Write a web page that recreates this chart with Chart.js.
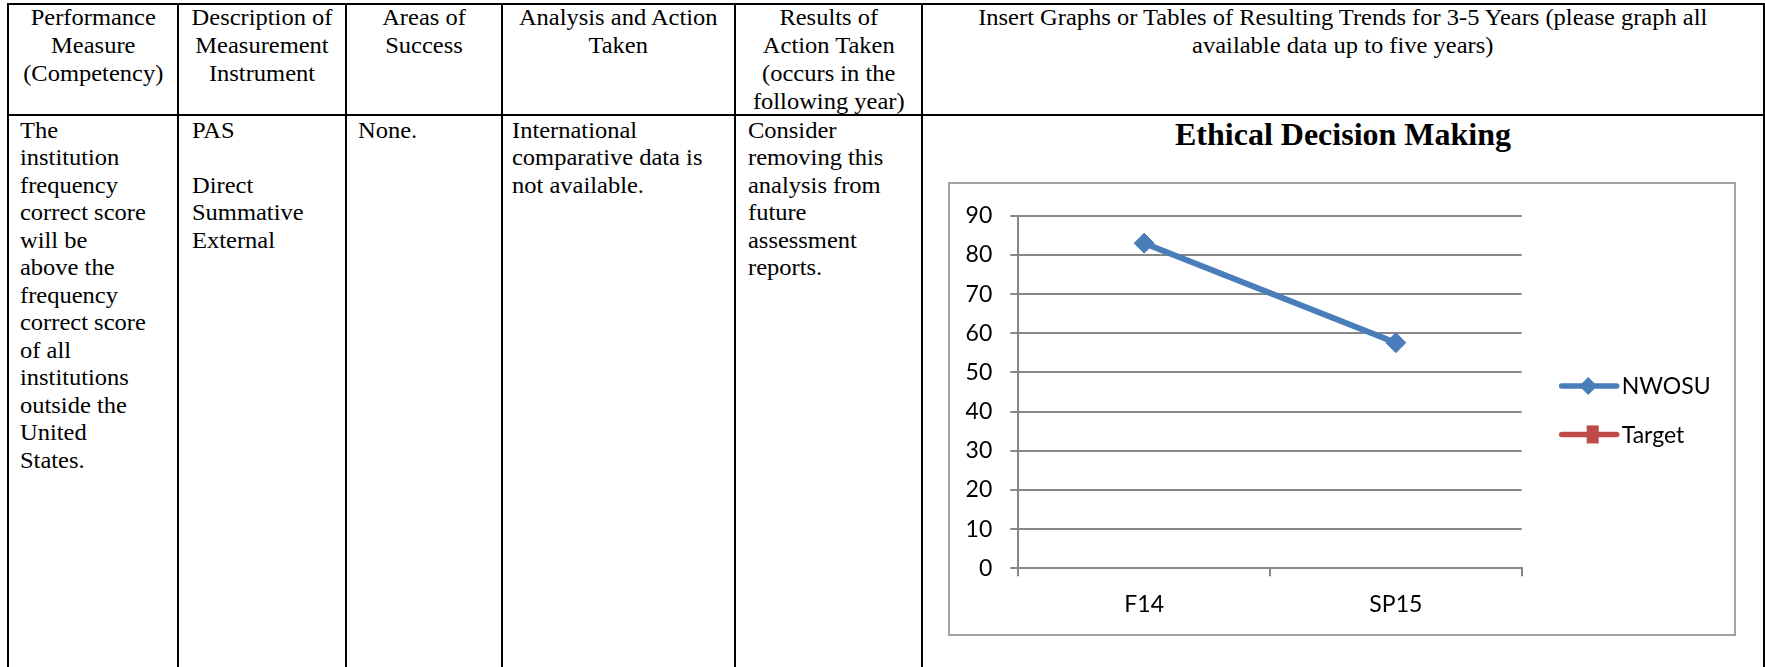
<!DOCTYPE html>
<html lang="en">
<head>
<meta charset="UTF-8">
<title>Ethical Decision Making</title>
<script src="https://cdn.jsdelivr.net/npm/chart.js"></script>
<style>
  body {
    margin: 0;
    width: 1765px;
    height: 667px;
    overflow: hidden;
    position: relative;
    background: #fff;
    color: #000;
    font-family: "Liberation Serif", "Times New Roman", serif;
    font-size: 23px;
  }
  .vline { position: absolute; top: 3px; height: 664px; width: 2px; background: #000; }
  .hline { position: absolute; left: 6.5px; width: 1758px; height: 2px; background: #000; }
  .head {
    position: absolute; top: 4.2px; line-height: 28px; text-align: center; white-space: nowrap;
    transform: scaleX(1.065); transform-origin: center top;
  }
  .cell {
    position: absolute; top: 116.8px; line-height: 27.5px; white-space: nowrap;
    transform: scaleX(1.065); transform-origin: left top;
  }
  .title {
    position: absolute; left: 922px; width: 842px; top: 117px;
    line-height: 34px; text-align: center; font-weight: bold; font-size: 32px; white-space: nowrap;
  }
  .chart-box {
    position: absolute; left: 948px; top: 182px; width: 788px; height: 454px;
    border: 2px solid #a2a2a2; box-sizing: border-box; background: #fff;
  }
  .chart-wrap { position: absolute; left: 0; top: 0; width: 784px; height: 450px; }
</style>
</head>
<body>
  <!-- table rules -->
  <div class="hline" style="top:3px"></div>
  <div class="hline" style="top:114px"></div>
  <div class="vline" style="left:6.5px"></div>
  <div class="vline" style="left:177px"></div>
  <div class="vline" style="left:345px"></div>
  <div class="vline" style="left:501px"></div>
  <div class="vline" style="left:733.5px"></div>
  <div class="vline" style="left:921px"></div>
  <div class="vline" style="left:1762.5px"></div>

  <!-- header row -->
  <div class="head" style="left:7.5px;width:170.5px">Performance<br>Measure<br>(Competency)</div>
  <div class="head" style="left:178px;width:168px">Description of<br>Measurement<br>Instrument</div>
  <div class="head" style="left:346px;width:156px">Areas of<br>Success</div>
  <div class="head" style="left:502px;width:232.5px">Analysis and Action<br>Taken</div>
  <div class="head" style="left:734.5px;width:187.5px">Results of<br>Action Taken<br>(occurs in the<br>following year)</div>
  <div class="head" style="left:922px;width:841.5px">Insert Graphs or Tables of Resulting Trends for 3-5 Years (please graph all<br>available data up to five years)</div>

  <!-- body row -->
  <div class="cell" style="left:20px">The<br>institution<br>frequency<br>correct score<br>will be<br>above the<br>frequency<br>correct score<br>of all<br>institutions<br>outside the<br>United<br>States.</div>
  <div class="cell" style="left:192px">PAS<br><br>Direct<br>Summative<br>External</div>
  <div class="cell" style="left:357.5px">None.</div>
  <div class="cell" style="left:512px">International<br>comparative data is<br>not available.</div>
  <div class="cell" style="left:748px">Consider<br>removing this<br>analysis from<br>future<br>assessment<br>reports.</div>

  <div class="title">Ethical Decision Making</div>
  <div class="chart-box">
    <div class="chart-wrap"><canvas id="trendChart"></canvas></div>
  </div>

<script>
  // values
  const categories = ['F14', 'SP15'];
  const seriesNames = ['NWOSU', 'Target'];
  const nwosuValues = [83, 57.6];
  const targetValues = [null, null];
  const yMin = 0;
  const yMax = 90;
  const yStep = 10;

  const gridColor = '#878787';
  const chartFont = { family: 'Lato', size: 23 };

  // Excel style legend: short line with the marker in the middle
  const lineLegend = {
    id: 'lineLegend',
    afterDraw(chart) {
      const { ctx, chartArea } = chart;
      const midY = (chartArea.top + chartArea.bottom) / 2;
      chart.data.datasets.forEach((ds, i) => {
        const y = midY - 6 + i * 48.4;
        const x0 = chartArea.right + 40;
        const x1 = chartArea.right + 95;
        ctx.save();
        ctx.strokeStyle = ds.borderColor;
        ctx.lineWidth = 5.5;
        ctx.lineCap = 'round';
        ctx.beginPath();
        ctx.moveTo(x0, y);
        ctx.lineTo(x1, y);
        ctx.stroke();
        ctx.fillStyle = ds.borderColor;
        if (ds.pointStyle === 'rectRot') {
          const cx = chartArea.right + 66.5, r = 9;
          ctx.beginPath();
          ctx.moveTo(cx - r, y);
          ctx.lineTo(cx, y - r);
          ctx.lineTo(cx + r, y);
          ctx.lineTo(cx, y + r);
          ctx.closePath();
          ctx.fill();
        } else {
          const cx = chartArea.right + 71;
          ctx.fillRect(cx - 6, y - 9, 12, 18);
        }
        ctx.fillStyle = '#000';
        ctx.font = chartFont.size + 'px ' + chartFont.family;
        ctx.textAlign = 'left';
        ctx.textBaseline = 'middle';
        ctx.fillText(ds.label, chartArea.right + 100, y + 1);
        ctx.restore();
      });
    }
  };

  new Chart(document.getElementById('trendChart'), {
    type: 'line',
    data: {
      labels: categories,
      datasets: [{
        label: seriesNames[0],
        data: nwosuValues,
        borderColor: '#4a7ebb',
        backgroundColor: '#4a7ebb',
        borderWidth: 6,
        tension: 0,
        pointStyle: 'rectRot',
        pointRadius: 10,
        pointBorderWidth: 1,
        pointBackgroundColor: '#4a7ebb',
        pointBorderColor: '#4a7ebb'
      }, {
        label: seriesNames[1],
        data: targetValues,
        borderColor: '#be4b48',
        backgroundColor: '#be4b48',
        borderWidth: 6,
        pointStyle: 'rect',
        pointRadius: 9
      }]
    },
    options: {
      responsive: true,
      maintainAspectRatio: false,
      animation: false,
      events: [],
      layout: { padding: { top: 28.7, right: 212.3, bottom: 0, left: 0 } },
      plugins: {
        legend: { display: false },
        title: { display: false },
        tooltip: { enabled: false }
      },
      scales: {
        x: {
          offset: true,
          grid: {
            offset: true,
            drawOnChartArea: false,
            drawTicks: true,
            tickLength: 8,
            color: gridColor,
            lineWidth: 2
          },
          border: { display: true, color: gridColor, width: 2 },
          ticks: { color: '#000', font: chartFont, padding: 14 },
          afterFit(scale) { scale.height = 65.7; }
        },
        y: {
          min: yMin,
          max: yMax,
          grid: { color: gridColor, lineWidth: 2, tickLength: 8 },
          border: { display: true, color: gridColor, width: 2 },
          ticks: { stepSize: yStep, color: '#000', font: chartFont, padding: 18 },
          afterFit(scale) { scale.width = 68.3; }
        }
      }
    },
    plugins: [lineLegend]
  });
</script>
</body>
</html>
